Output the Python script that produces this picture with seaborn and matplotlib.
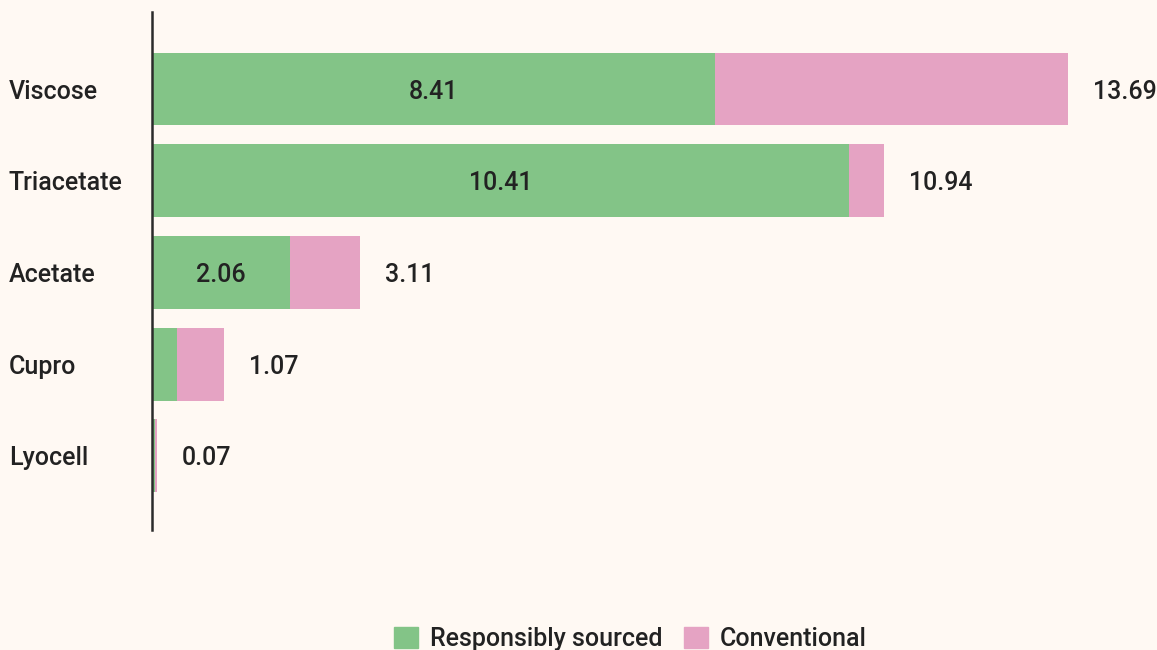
import matplotlib
matplotlib.use("Agg")
import matplotlib.pyplot as plt
import matplotlib.patches as mpatches
import seaborn as sns
import pandas as pd

categories = ["Viscose", "Triacetate", "Acetate", "Cupro", "Lyocell"]
responsible = [8.41, 10.41, 2.06, 0.37, 0.05]
totals = [13.69, 10.94, 3.11, 1.07, 0.07]
inner_labels = ["8.41", "10.41", "2.06", "", ""]
total_labels = ["13.69", "10.94", "3.11", "1.07", "0.07"]
series_names = ["Responsibly sourced", "Conventional"]

GREEN = "#83C487"
PINK = "#E5A3C3"
BG = "#FFF9F3"
TXT = "#222222"
FW = "medium"

sns.set_theme(style="white")
plt.rcParams["font.family"] = ["Roboto", "DejaVu Sans"]
plt.rcParams["font.weight"] = FW

df = pd.DataFrame({"cat": categories, "resp": responsible, "total": totals})

fig = plt.figure(figsize=(11.57, 6.5), dpi=100, facecolor=BG)
ax = fig.add_axes([152 / 1157, 1 - 530 / 650, 1005 / 1157, 518 / 650])
ax.set_facecolor(BG)

sns.barplot(data=df, x="total", y="cat", color=PINK, width=0.795,
            saturation=1, orient="h", ax=ax, linewidth=0)
sns.barplot(data=df, x="resp", y="cat", color=GREEN, width=0.795,
            saturation=1, orient="h", ax=ax, linewidth=0)

ax.set_xlim(0, 15.02)
ax.set_ylim(4.81, -0.84)
ax.set_xlabel("")
ax.set_ylabel("")
ax.set_xticks([])

for s in ["top", "right", "bottom"]:
    ax.spines[s].set_visible(False)
ax.spines["left"].set_color("#2b2b2b")
ax.spines["left"].set_linewidth(1.8)

ax.tick_params(axis="y", length=0, pad=103, labelsize=18, labelcolor=TXT)
for lab in ax.get_yticklabels():
    lab.set_ha("left")
    lab.set_va("center_baseline")
    lab.set_fontweight(FW)

for i, (r, t) in enumerate(zip(responsible, totals)):
    if inner_labels[i]:
        ax.text(r / 2, i, inner_labels[i], ha="center", va="center_baseline",
                fontsize=18, color=TXT, fontweight=FW)
    ax.annotate(total_labels[i], xy=(t, i), xytext=(18, 0),
                textcoords="offset points", ha="left", va="center_baseline",
                fontsize=18, color=TXT, fontweight=FW)

handles = [mpatches.Patch(color=GREEN, label=series_names[0]),
           mpatches.Patch(color=PINK, label=series_names[1])]
fig.legend(handles=handles, loc="center", bbox_to_anchor=(0.545, 0.017),
           ncol=2, frameon=False, prop={"size": 18, "weight": FW},
           handlelength=0.96, handleheight=0.96, handletextpad=0.48,
           columnspacing=0.84, labelcolor=TXT)

fig.savefig("out.png", dpi=100, facecolor=BG)
